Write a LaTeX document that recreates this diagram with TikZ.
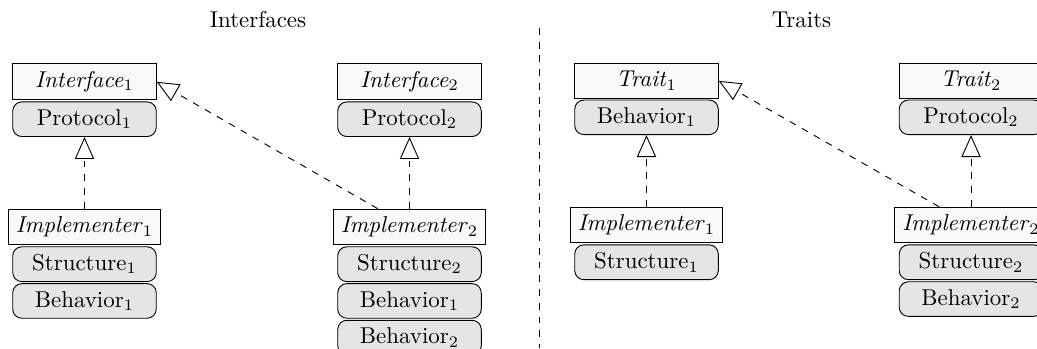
\documentclass[tikz,border=0pt]{standalone}
\usetikzlibrary{positioning, arrows.meta}

\begin{document}
\begin{tikzpicture}[x=0.4367pt, y=0.4367pt,
      head/.style={rectangle, draw, fill=gray!5, minimum width=62.7pt},
      part/.style={rectangle, draw, fill=gray!20, rounded corners, minimum width=62.7pt},
      realize/.style={dashed, -{Triangle[open, length=9.6pt, width=8.4pt]}}
   ]
      \useasboundingbox (0,0) rectangle (1037,348);

      % Titles and separator
      \node (titleI) [anchor=base] at (258,321)   {Interfaces};
      \node (titleT) [anchor=base] at (801.5,321) {Traits};
      \coordinate (septop) at (539,320);
      \coordinate (sepbot) at (539,0);
      \draw[dashed] (septop) -- (sepbot);

      % Interfaces, column 1
      \node (iface1)  [head, anchor=north] at (84.5,284.7) {\textit{Interface}$_1$};
      \node (proto1)  [part, below=0.5pt of iface1]  {Protocol$_1$};
      \node (impl1)   [head, below=1.1cm of proto1]  {\textit{Implementer}$_1$};
      \node (struct1) [part, below=0.5pt of impl1]   {Structure$_1$};
      \node (beh1)    [part, below=0.5pt of struct1] {Behavior$_1$};

      % Interfaces, column 2
      \node (iface2)  [head, anchor=north] at (409.5,284.7) {\textit{Interface}$_2$};
      \node (proto2)  [part, below=0.5pt of iface2]  {Protocol$_2$};
      \node (impl2)   [head, below=1.1cm of proto2]  {\textit{Implementer}$_2$};
      \node (struct2) [part, below=0.5pt of impl2]   {Structure$_2$};
      \node (beh2a)   [part, below=0.5pt of struct2] {Behavior$_1$};
      \node (beh2b)   [part, below=0.5pt of beh2a]   {Behavior$_2$};

      % Traits, column 1
      \node (trait1)   [head, anchor=north] at (646.5,284.7) {\textit{Trait}$_1$};
      \node (tbeh1)    [part, below=0.5pt of trait1] {Behavior$_1$};
      \node (timpl1)   [head, below=1.1cm of tbeh1]  {\textit{Implementer}$_1$};
      \node (tstruct1) [part, below=0.5pt of timpl1] {Structure$_1$};

      % Traits, column 2
      \node (trait2)   [head, anchor=north] at (971,284.7) {\textit{Trait}$_2$};
      \node (tproto2)  [part, below=0.5pt of trait2]   {Protocol$_2$};
      \node (timpl2)   [head, below=1.1cm of tproto2]  {\textit{Implementer}$_2$};
      \node (tstruct2) [part, below=0.5pt of timpl2]   {Structure$_2$};
      \node (tbeh2)    [part, below=0.5pt of tstruct2] {Behavior$_2$};

      % Realisation arrows
      \draw[realize] (impl1)  -- (proto1);
      \draw[realize] (impl2)  -- (proto2);
      \draw[realize] (impl2)  -- (iface1.east);
      \draw[realize] (timpl1) -- (tbeh1);
      \draw[realize] (timpl2) -- (tproto2);
      \draw[realize] (timpl2) -- (trait1.east);
   \end{tikzpicture}
\end{document}
